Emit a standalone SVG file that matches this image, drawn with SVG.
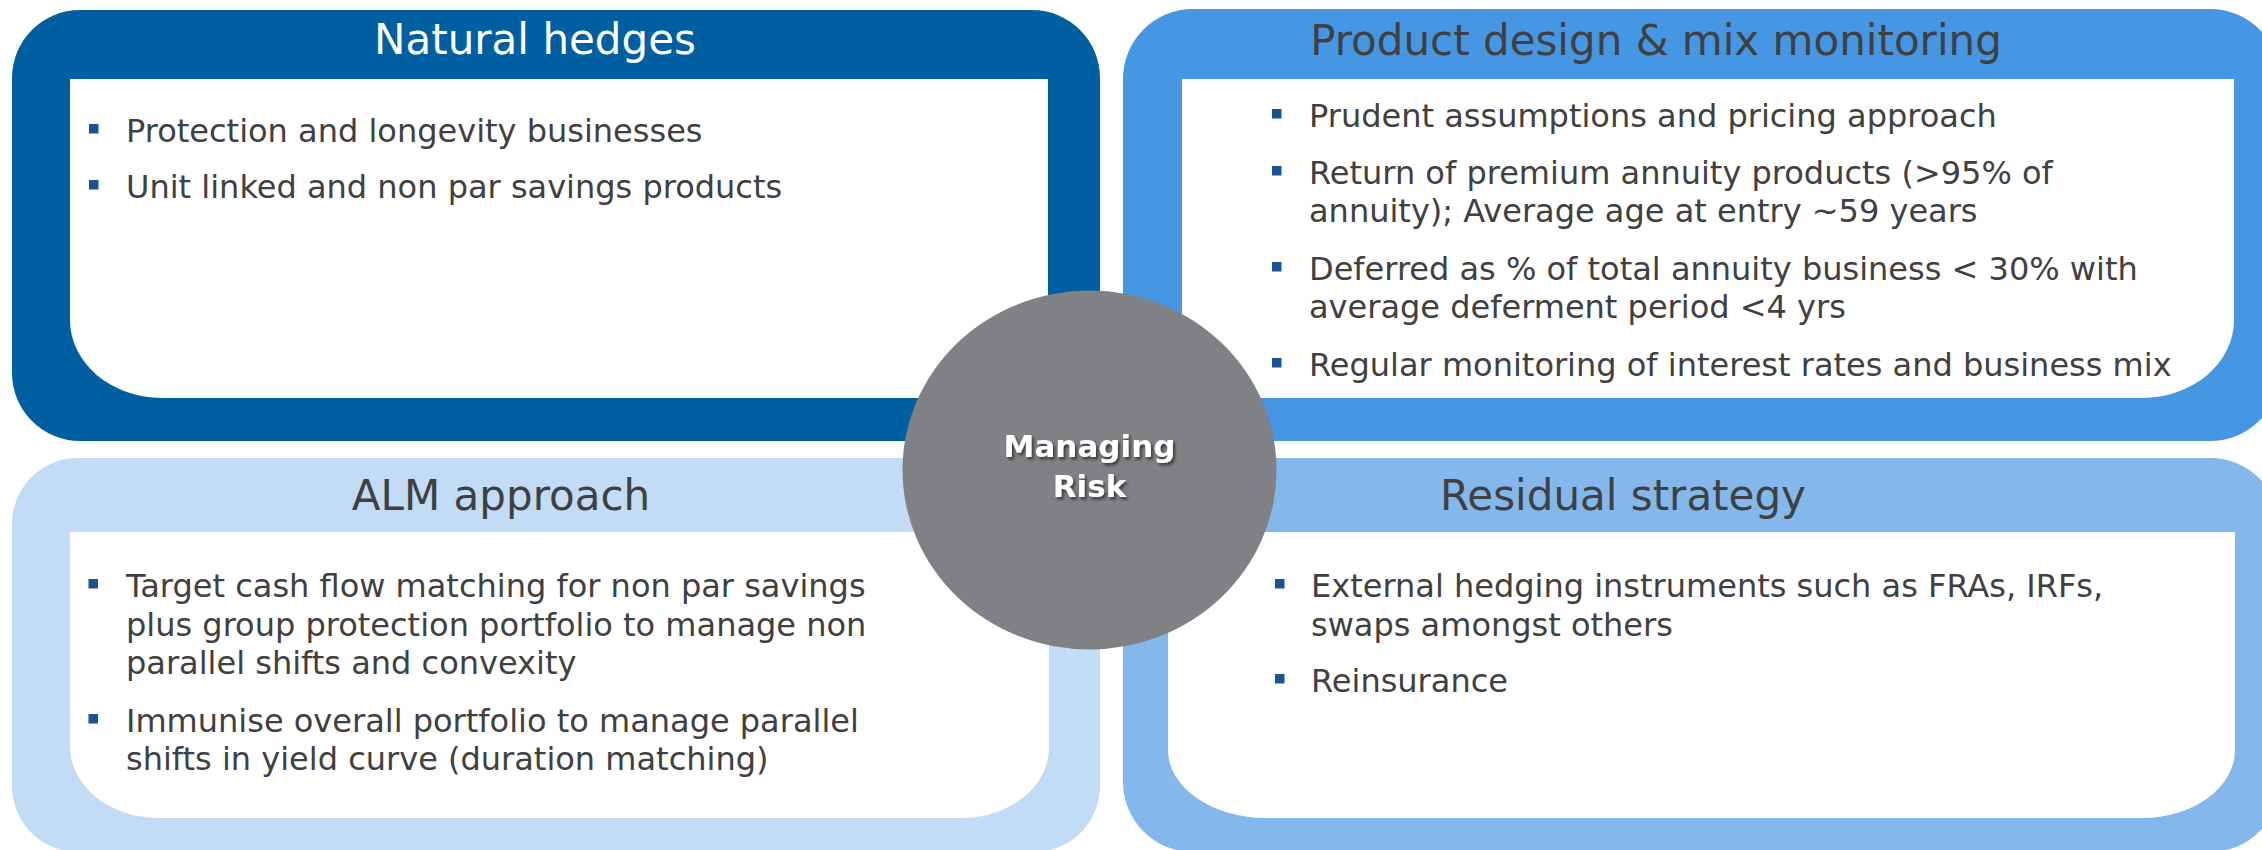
<svg xmlns="http://www.w3.org/2000/svg" width="2262" height="850" viewBox="0 0 2262 850">
  <style>
    .title { font-family: "DejaVu Sans", Verdana, sans-serif; font-size: 42px; text-anchor: middle; fill: #404040; }
    .body { font-family: "DejaVu Sans", Verdana, sans-serif; font-size: 32px; fill: #404040; }
    .bullet { fill: #1A5294; }
    .inner { fill: #FFFFFF; }
    .center { font-family: "DejaVu Sans", Verdana, sans-serif; font-size: 31px; font-weight: bold; text-anchor: middle; fill: #FFFFFF; }
  </style>
  <defs>
    <filter id="shadow" x="-20%" y="-40%" width="140%" height="180%">
      <feDropShadow dx="2" dy="2.5" stdDeviation="1.5" flood-color="#000000" flood-opacity="0.55"/>
    </filter>
  </defs>
  <rect width="2262" height="850" fill="#FFFFFF"/>

  <g id="natural-hedges">
    <rect x="12" y="10" width="1088" height="431" rx="68" ry="68" fill="#005FA0"/>
    <path class="inner" d="M70 79 H1048 V398 H162 A92 78 0 0 1 70 320 Z"/>
    <text class="title" x="535" y="54" style="fill:#FFFFFF">Natural hedges</text>
    <rect class="bullet" x="89" y="124" width="9.5" height="9.5"/>
    <text class="body" x="126" y="142">Protection and longevity businesses</text>
    <rect class="bullet" x="89" y="180" width="9.5" height="9.5"/>
    <text class="body" x="126" y="198">Unit linked and non par savings products</text>
  </g>

  <g id="product-design">
    <rect x="1123" y="9" width="1157" height="432" rx="70" ry="70" fill="#4597E3"/>
    <path class="inner" d="M1182 79 H2234 V320 A92 78 0 0 1 2142 398 H1182 Z"/>
    <text class="title" x="1656" y="55">Product design &amp; mix monitoring</text>
    <rect class="bullet" x="1272" y="109" width="9.5" height="9.5"/>
    <text class="body" x="1309" y="127">Prudent assumptions and pricing approach</text>
    <rect class="bullet" x="1272" y="166" width="9.5" height="9.5"/>
    <text class="body" x="1309" y="184">Return of premium annuity products (&gt;95% of</text>
    <text class="body" x="1309" y="222">annuity); Average age at entry ~59 years</text>
    <rect class="bullet" x="1272" y="262" width="9.5" height="9.5"/>
    <text class="body" x="1309" y="280">Deferred as % of total annuity business &lt; 30% with</text>
    <text class="body" x="1309" y="318">average deferment period &lt;4 yrs</text>
    <rect class="bullet" x="1272" y="358" width="9.5" height="9.5"/>
    <text class="body" x="1309" y="376">Regular monitoring of interest rates and business mix</text>
  </g>

  <g id="alm-approach">
    <rect x="12" y="458" width="1088" height="394" rx="66" ry="66" fill="#C2DCF5"/>
    <path class="inner" d="M70 532 H1049 V748 A88 70 0 0 1 961 818 H158 A88 72 0 0 1 70 746 Z"/>
    <text class="title" x="501" y="510">ALM approach</text>
    <rect class="bullet" x="88.5" y="579" width="9.5" height="9.5"/>
    <text class="body" x="126" y="597">Target cash flow matching for non par savings</text>
    <text class="body" x="126" y="635.5">plus group protection portfolio to manage non</text>
    <text class="body" x="126" y="674">parallel shifts and convexity</text>
    <rect class="bullet" x="88.5" y="714" width="9.5" height="9.5"/>
    <text class="body" x="126" y="732">Immunise overall portfolio to manage parallel</text>
    <text class="body" x="126" y="770">shifts in yield curve (duration matching)</text>
  </g>

  <g id="residual-strategy">
    <rect x="1123" y="458" width="1157" height="394" rx="70" ry="70" fill="#84B8EC"/>
    <path class="inner" d="M1168 532 H2235 V750 A93 68 0 0 1 2142 818 H1266 A98 68 0 0 1 1168 750 Z"/>
    <text class="title" x="1623" y="510">Residual strategy</text>
    <rect class="bullet" x="1275" y="579" width="9.5" height="9.5"/>
    <text class="body" x="1311" y="597">External hedging instruments such as FRAs, IRFs,</text>
    <text class="body" x="1311" y="635.5">swaps amongst others</text>
    <rect class="bullet" x="1275" y="674" width="9.5" height="9.5"/>
    <text class="body" x="1311" y="692">Reinsurance</text>
  </g>

  <g id="connectors"/>

  <g id="managing-risk">
    <ellipse cx="1089.5" cy="470" rx="187" ry="179.5" fill="#808184"/>
    <g filter="url(#shadow)">
      <text class="center" x="1089.5" y="457">Managing</text>
      <text class="center" x="1089.5" y="496.5">Risk</text>
    </g>
  </g>
</svg>
